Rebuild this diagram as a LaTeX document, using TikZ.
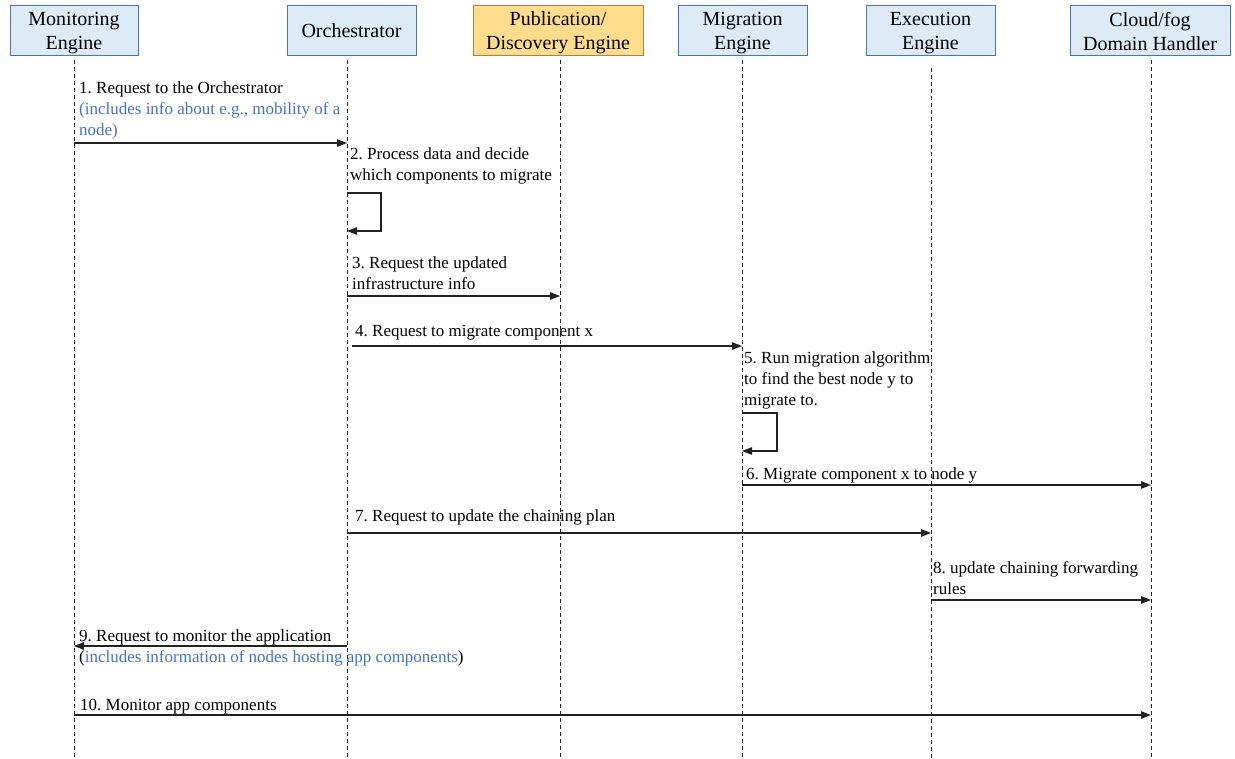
\documentclass[tikz,border=0pt]{standalone}
\usepackage{fontspec}
\setmainfont{Liberation Serif}
\usetikzlibrary{arrows.meta}
\frenchspacing
\definecolor{hdrfill}{HTML}{DDEBF7}
\definecolor{hdrline}{HTML}{4472C4}
\definecolor{pubfill}{HTML}{FFDD8C}
\definecolor{publine}{HTML}{BE7A3C}
\definecolor{infoblue}{HTML}{4472C4}
\definecolor{wire}{HTML}{222222}
\begin{document}
\begin{tikzpicture}[x=1pt,y=-1pt,
  actor/.style={draw=hdrline, fill=hdrfill, line width=1pt, minimum height=50pt,
    inner sep=0pt},
  pubactor/.style={actor, draw=publine, fill=pubfill},
  actortext/.style={inner sep=0pt, align=center, font=\fontsize{20}{24}\selectfont},
  lifeline/.style={draw=wire, line width=1pt, dash pattern=on 4pt off 3pt},
  msg/.style={draw=wire, line width=1.2pt, -{Triangle[length=10pt,width=7.5pt]}},
  % labels are anchored at the baseline of their last line
  lbl/.style={anchor=base west, inner sep=0pt, align=left,
    font=\fontsize{17}{21}\selectfont},
]
\useasboundingbox (0,0) rectangle (1235,759);

% participants: box, then its caption
\node[actor, minimum width=128pt] (mon) at (74,31) {};
\node[actortext] (mon-l) at (74,33) {Monitoring\\Engine};
\node[actor, minimum width=129pt] (orc) at (351.5,31) {};
\node[actortext] (orc-l) at (351.5,31) {Orchestrator};
\node[pubactor, minimum width=170pt] (pub) at (558,31) {};
\node[actortext] (pub-l) at (558,32.5) {Publication/\\Discovery Engine};
\node[actor, minimum width=129pt] (mig) at (742.5,31) {};
\node[actortext] (mig-l) at (742.5,33) {Migration\\Engine};
\node[actor, minimum width=129pt] (exe) at (930.5,31) {};
\node[actortext] (exe-l) at (930.5,33) {Execution\\Engine};
\node[actor, minimum width=160pt] (dom) at (1150,31) {};
\node[actortext] (dom-l) at (1150,32) {Cloud/fog\\Domain Handler};

% lifelines
\coordinate (mon-t) at (74,60);    \coordinate (mon-b) at (74,759);
\coordinate (orc-t) at (347,60);   \coordinate (orc-b) at (347,759);
\coordinate (pub-t) at (560,60);   \coordinate (pub-b) at (560,759);
\coordinate (mig-t) at (742,60);   \coordinate (mig-b) at (742,759);
\coordinate (exe-t) at (931,68);   \coordinate (exe-b) at (931,759);
\coordinate (dom-t) at (1151,60);  \coordinate (dom-b) at (1151,759);
\foreach \p in {mon,orc,pub,mig,exe,dom}
  \draw[lifeline] (\p-t) -- (\p-b);

% message end points
\coordinate (m1a) at (74,143);   \coordinate (m1b) at (347,143);
\coordinate (m2a) at (347,193);  \coordinate (m2c) at (381,193);
\coordinate (m2d) at (381,231);  \coordinate (m2b) at (347,231);
\coordinate (m3a) at (347,296);  \coordinate (m3b) at (560,296);
\coordinate (m4a) at (352,346);  \coordinate (m4b) at (742,346);
\coordinate (m5a) at (742,413);  \coordinate (m5c) at (777,413);
\coordinate (m5d) at (777,451);  \coordinate (m5b) at (742,451);
\coordinate (m6a) at (742,485);  \coordinate (m6b) at (1151,485);
\coordinate (m7a) at (347,533);  \coordinate (m7b) at (931,533);
\coordinate (m8a) at (931,600);  \coordinate (m8b) at (1151,600);
\coordinate (m9a) at (347,646);  \coordinate (m9b) at (74,646);
\coordinate (m10a) at (74,715);  \coordinate (m10b) at (1151,715);

% messages
\draw[msg] (m1a) -- (m1b);
\draw[msg] (m2a) -- (m2c) -- (m2d) -- (m2b);
\draw[msg] (m3a) -- (m3b);
\draw[msg] (m4a) -- (m4b);
\draw[msg] (m5a) -- (m5c) -- (m5d) -- (m5b);
\draw[msg] (m6a) -- (m6b);
\draw[msg] (m7a) -- (m7b);
\draw[msg] (m8a) -- (m8b);
\draw[msg] (m9a) -- (m9b);
\draw[msg] (m10a) -- (m10b);

% message labels
\node[lbl] (t1) at (79,135.5) {1. Request to the Orchestrator\\
  \textcolor{infoblue}{(includes info about e.g., mobility of a}\\
  \textcolor{infoblue}{node)}};
\node[lbl] (t2) at (350,180.5) {2. Process data and decide\\which components to migrate};
\node[lbl] (t3) at (352,289.5) {3. Request the updated\\infrastructure info};
\node[lbl] (t4) at (355,336.5) {4. Request to migrate component x};
\node[lbl] (t5) at (744,405.5) {5. Run migration algorithm\\to find the best node y to\\migrate to.};
\node[lbl] (t6) at (746,479.5) {6. Migrate component x to node y};
\node[lbl] (t7) at (355,521.5) {7. Request to update the chaining plan};
\node[lbl] (t8) at (933,594.5) {8. update chaining forwarding\\rules};
\node[lbl] (t9) at (79,662) {9. Request to monitor the application\\
  (\textcolor{infoblue}{includes information of nodes hosting app components})};
\node[lbl] (t10) at (80,710.5) {10. Monitor app components};
\end{tikzpicture}
\end{document}
